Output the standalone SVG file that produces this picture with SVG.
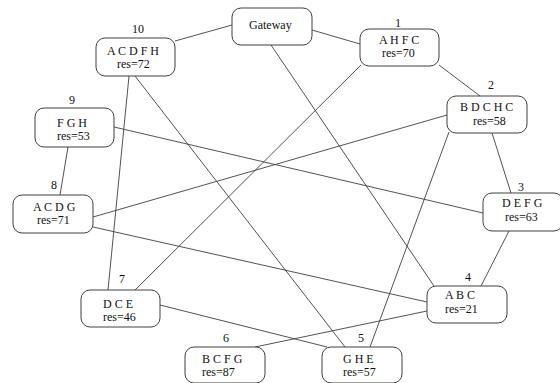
<svg xmlns="http://www.w3.org/2000/svg" width="560" height="383" viewBox="0 0 560 383">
<style>
.box{fill:#fff;stroke:#404040;stroke-width:1}
.t{font-family:"Liberation Serif","Times New Roman",serif;font-size:12px;fill:#111}
.n{font-family:"Liberation Serif","Times New Roman",serif;font-size:12px;fill:#111;text-anchor:middle}
#edges line{stroke:#404040;stroke-width:0.9}
</style>
<rect width="560" height="383" fill="#fff"/>
<g id="edges">
<line x1="175" y1="41" x2="232" y2="25"/>
<line x1="312" y1="30" x2="360" y2="44"/>
<line x1="271" y1="45" x2="434" y2="286"/>
<line x1="439" y1="65" x2="480" y2="96"/>
<line x1="361" y1="65" x2="135" y2="290"/>
<line x1="447" y1="115" x2="93" y2="217"/>
<line x1="492" y1="133" x2="511" y2="193"/>
<line x1="449" y1="132" x2="370" y2="347"/>
<line x1="509" y1="231" x2="481" y2="286"/>
<line x1="114" y1="127" x2="483" y2="213"/>
<line x1="68" y1="147" x2="60" y2="195"/>
<line x1="129" y1="76" x2="108" y2="290"/>
<line x1="135" y1="76" x2="345" y2="347"/>
<line x1="93" y1="227" x2="427" y2="302"/>
<line x1="160" y1="305" x2="327" y2="347"/>
<line x1="255" y1="347" x2="427" y2="311"/>
</g>
<g id="gateway"><rect class="box" x="232" y="8" width="80" height="37" rx="9"/><text class="t" x="249" y="29">Gateway</text></g>
<g id="node10"><rect class="box" x="96" y="38" width="79" height="38" rx="9"/><text class="n" x="138" y="33">10</text><text class="t" x="107" y="55">A C D F H</text><text class="t" x="117" y="68">res=72</text></g>
<g id="node9"><rect class="box" x="35" y="108" width="79" height="39" rx="9"/><text class="n" x="72" y="104">9</text><text class="t" x="57" y="127">F G H</text><text class="t" x="57" y="140">res=53</text></g>
<g id="node1"><rect class="box" x="360" y="29" width="79" height="37" rx="9"/><text class="n" x="398" y="27">1</text><text class="t" x="379" y="44">A H F C</text><text class="t" x="382" y="57">res=70</text></g>
<g id="node2"><rect class="box" x="447" y="96" width="80" height="37" rx="9"/><text class="n" x="491" y="89">2</text><text class="t" x="460" y="111">B D C H C</text><text class="t" x="473" y="125">res=58</text></g>
<g id="node3"><rect class="box" x="483" y="193" width="80" height="38" rx="9"/><text class="n" x="521" y="191">3</text><text class="t" x="502" y="207">D E F G</text><text class="t" x="505" y="221">res=63</text></g>
<g id="node4"><rect class="box" x="427" y="286" width="80" height="37" rx="9"/><text class="n" x="468" y="281">4</text><text class="t" x="445" y="299">A B C</text><text class="t" x="445" y="313">res=21</text></g>
<g id="node5"><rect class="box" x="322" y="347" width="80" height="36" rx="9"/><text class="n" x="361" y="342">5</text><text class="t" x="343" y="363">G H E</text><text class="t" x="343" y="376">res=57</text></g>
<g id="node6"><rect class="box" x="185" y="347" width="80" height="36" rx="9"/><text class="n" x="226" y="342">6</text><text class="t" x="202" y="363">B C F G</text><text class="t" x="202" y="376">res=87</text></g>
<g id="node7"><rect class="box" x="81" y="290" width="79" height="37" rx="9"/><text class="n" x="122" y="283">7</text><text class="t" x="103" y="308">D C E</text><text class="t" x="103" y="321">res=46</text></g>
<g id="node8"><rect class="box" x="13" y="195" width="80" height="38" rx="9"/><text class="n" x="54" y="189">8</text><text class="t" x="33" y="211">A C D G</text><text class="t" x="37" y="224">res=71</text></g>
</svg>
